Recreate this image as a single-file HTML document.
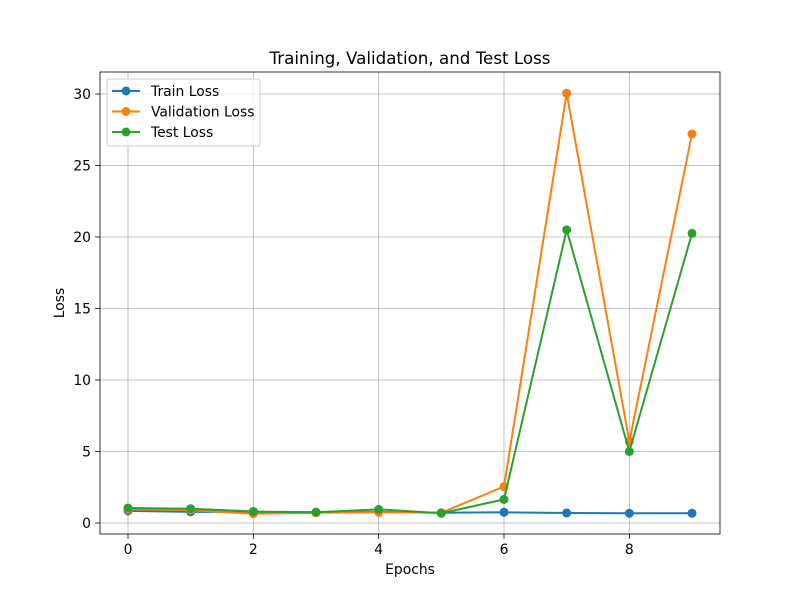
<!DOCTYPE html>
<html><head><meta charset="utf-8"><style>
body{margin:0;background:#fff;font-family:"Liberation Sans","DejaVu Sans",sans-serif;}
svg text{font-family:"DejaVu Sans","Liberation Sans",sans-serif;}
</style></head><body>
<svg id="chart" width="800" height="600"></svg>
<script>
const epochs=[0,1,2,3,4,5,6,7,8,9];
const trainLoss=[0.85,0.78,0.78,0.75,0.78,0.72,0.75,0.7,0.68,0.68];
const valLoss=[0.95,0.9,0.65,0.72,0.75,0.72,2.55,30.05,5.7,27.2];
const testLoss=[1.05,1.0,0.8,0.75,0.95,0.68,1.65,20.5,5.0,20.25];
const xTicks=[0,2,4,6,8];
const yTicks=[0,5,10,15,20,25,30];
const seriesNames=["Train Loss","Validation Loss","Test Loss"];
const colors=["#1f77b4","#ff7f0e","#2ca02c"];
const L=100,R=720,T=72,B=534;
const xs=v=>128+v*(692-128)/9;
const ys=v=>523-v*(523-94)/30;
const svg=document.getElementById('chart');
const NS="http://www.w3.org/2000/svg";
function mk(tag,attrs,parent){const e=document.createElementNS(NS,tag);for(const k in attrs)e.setAttribute(k,attrs[k]);(parent||svg).appendChild(e);return e;}
xTicks.forEach(t=>{const l=mk('line',{x1:xs(t),x2:xs(t),y1:T,y2:B,stroke:'#b0b0b0','stroke-width':0.8});


mk('line',{x1:xs(t),x2:xs(t),y1:B,y2:B+4.9,stroke:'#000','stroke-width':0.8});
const tx=mk('text',{x:xs(t),y:B+20,'font-size':13.9,'text-anchor':'middle'});tx.textContent=t;

});
yTicks.forEach(t=>{const l=mk('line',{x1:L,x2:R,y1:ys(t),y2:ys(t),stroke:'#b0b0b0','stroke-width':0.8});


mk('line',{x1:L-4.9,x2:L,y1:ys(t),y2:ys(t),stroke:'#000','stroke-width':0.8});
const tx=mk('text',{x:L-9,y:ys(t)+5,'font-size':13.9,'text-anchor':'end'});tx.textContent=t;

});
[trainLoss,valLoss,testLoss].forEach((s,i)=>{
const p=mk('polyline',{points:s.map((v,j)=>xs(epochs[j])+','+ys(v)).join(' '),fill:'none',stroke:colors[i],'stroke-width':2});


s.forEach((v,j)=>{const c=mk('circle',{cx:xs(epochs[j]),cy:ys(v),r:4.5,fill:colors[i]});

});});
const fr=mk('rect',{x:L,y:T,width:R-L,height:B-T,fill:'none',stroke:'#000','stroke-width':0.8});


const ti=mk('text',{x:410,y:64,'font-size':16.7,'text-anchor':'middle'});ti.textContent="Training, Validation, and Test Loss";


const xl=mk('text',{x:410,y:574,'font-size':13.9,'text-anchor':'middle'});xl.textContent="Epochs";


const yl=mk('text',{x:64,y:303,'font-size':13.9,'text-anchor':'middle',transform:'rotate(-90 64 303)'});yl.textContent="Loss";


const lg=mk('rect',{x:107,y:79,width:153,height:67,fill:'#fff','fill-opacity':0.8,stroke:'#ccc',rx:2});


seriesNames.forEach((n,i)=>{const y=91+i*20.5;
mk('line',{x1:112,x2:140,y1:y,y2:y,stroke:colors[i],'stroke-width':2});
mk('circle',{cx:126,cy:y,r:4.5,fill:colors[i]});
const t=mk('text',{x:151,y:y+5,'font-size':13.9});t.textContent=n;

});
</script>
</body></html>
